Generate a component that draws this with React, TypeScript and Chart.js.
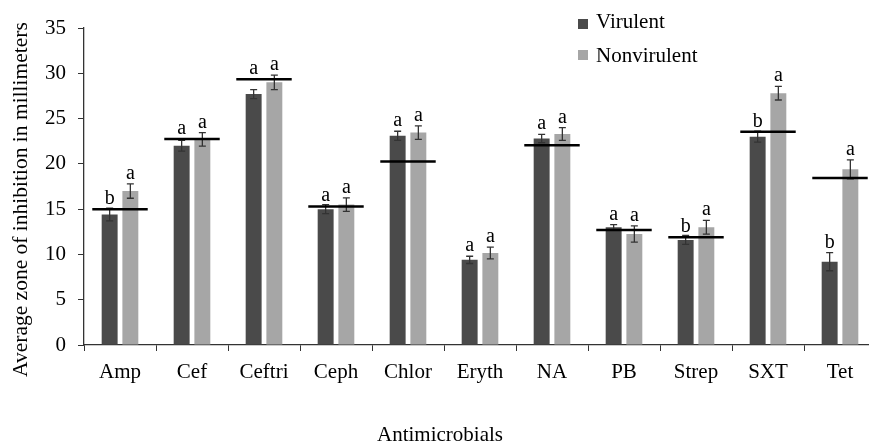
import React, { useEffect, useRef } from "react";
import { Chart, registerables } from "chart.js";

Chart.register(...registerables);

const categories = ["Amp", "Cef", "Ceftri", "Ceph", "Chlor", "Eryth", "NA", "PB", "Strep", "SXT", "Tet"];
const virulent = [14.4, 22.0, 27.7, 15.0, 23.1, 9.4, 22.8, 13.0, 11.6, 23.0, 9.2];
const virulentErr = [0.7, 0.6, 0.5, 0.5, 0.5, 0.4, 0.45, 0.3, 0.5, 0.6, 1.0];
const nonvirulent = [17.0, 22.7, 29.0, 15.5, 23.45, 10.15, 23.3, 12.25, 13.0, 27.8, 19.4];
const nonvirulentErr = [0.8, 0.75, 0.8, 0.75, 0.75, 0.65, 0.7, 0.9, 0.75, 0.75, 1.05];
const virulentLetters = ["b", "a", "a", "a", "a", "a", "a", "a", "b", "b", "b"];
const nonvirulentLetters = ["a", "a", "a", "a", "a", "a", "a", "a", "a", "a", "a"];
const referenceLines: (number | null)[] = [15.0, 22.75, 29.33, 15.3, 20.25, null, 22.05, 12.7, 11.9, 23.55, 18.45];
const yTicks = [0, 5, 10, 15, 20, 25, 30, 35];
const seriesNames = ["Virulent", "Nonvirulent"];
const xTitle = "Antimicrobials";
const yTitle = "Average zone of inhibition in millimeters";

const FONT = "'Liberation Serif', 'Times New Roman', serif";
const DARK = "#4a4a4a";
const LIGHT = "#a6a6a6";

const overlayPlugin = {
  id: "overlay",
  afterDatasetsDraw(chart: any) {
    const ctx = chart.ctx;
    const y = chart.scales.y;
    const x = chart.scales.x;
    const errs = [virulentErr, nonvirulentErr];
    const letters = [virulentLetters, nonvirulentLetters];
    const catW = x.getPixelForValue(1) - x.getPixelForValue(0);
    ctx.save();
    // error bars
    chart.data.datasets.forEach((ds: any, di: number) => {
      const meta = chart.getDatasetMeta(di);
      meta.data.forEach((el: any, i: number) => {
        const v = ds.data[i];
        const e = errs[di][i];
        const top = y.getPixelForValue(v + e);
        const bot = y.getPixelForValue(v - e);
        ctx.strokeStyle = "#333";
        ctx.lineWidth = 1.3;
        ctx.beginPath();
        ctx.moveTo(el.x, top);
        ctx.lineTo(el.x, bot);
        ctx.moveTo(el.x - 3.5, top);
        ctx.lineTo(el.x + 3.5, top);
        ctx.moveTo(el.x - 3.5, bot);
        ctx.lineTo(el.x + 3.5, bot);
        ctx.stroke();
      });
    });
    // reference lines
    referenceLines.forEach((rv, i) => {
      if (rv == null) return;
      const cx = x.getPixelForValue(i);
      const py = y.getPixelForValue(rv);
      ctx.strokeStyle = "#000";
      ctx.lineWidth = 2.5;
      ctx.beginPath();
      ctx.moveTo(cx - 0.385 * catW, py);
      ctx.lineTo(cx + 0.385 * catW, py);
      ctx.stroke();
    });
    // letters
    ctx.fillStyle = "#000";
    ctx.font = `20px ${FONT}`;
    ctx.textAlign = "center";
    ctx.textBaseline = "alphabetic";
    chart.data.datasets.forEach((ds: any, di: number) => {
      const meta = chart.getDatasetMeta(di);
      meta.data.forEach((el: any, i: number) => {
        const v = ds.data[i];
        let top = y.getPixelForValue(v + errs[di][i]);
        const rv = referenceLines[i];
        if (rv != null) {
          const lp = y.getPixelForValue(rv);
          if (lp < top + 2 && top - lp < 15) top = lp;
        }
        ctx.fillText(letters[di][i], el.x, top - 5);
      });
    });
    // legend
    const colors = [DARK, LIGHT];
    ctx.font = `21px ${FONT}`;
    ctx.textAlign = "left";
    ctx.textBaseline = "alphabetic";
    const baselines = [28.3, 61.7];
    const sqTops = [19, 50];
    seriesNames.forEach((n, i) => {
      ctx.fillStyle = colors[i];
      ctx.fillRect(578, sqTops[i], 10, 10);
      ctx.fillStyle = "#000";
      ctx.fillText(n, 596, baselines[i]);
    });
    // axis titles
    ctx.textAlign = "center";
    ctx.fillText(xTitle, 440, 441);
    ctx.save();
    ctx.translate(27, 377);
    ctx.rotate(-Math.PI / 2);
    ctx.textAlign = "left";
    ctx.font = `21.5px ${FONT}`;
    ctx.fillText(yTitle, 0, 0);
    ctx.restore();
    ctx.restore();
  },
};

export default function App() {
  const ref = useRef<HTMLCanvasElement>(null);
  useEffect(() => {
    if (!ref.current) return;
    const chart = new Chart(ref.current, {
      type: "bar",
      data: {
        labels: categories,
        datasets: [
          { label: seriesNames[0], data: virulent, backgroundColor: DARK, categoryPercentage: 0.575, barPercentage: 0.77 },
          { label: seriesNames[1], data: nonvirulent, backgroundColor: LIGHT, categoryPercentage: 0.575, barPercentage: 0.77 },
        ],
      },
      options: {
        animation: false,
        responsive: false,
        layout: { padding: { left: 0, top: 28, right: 4, bottom: 0 } },
        plugins: { legend: { display: false }, tooltip: { enabled: false } },
        scales: {
          x: {
            afterFit: (s: any) => { s.height = 99; },
            grid: { offset: true, drawOnChartArea: false, drawTicks: true, tickLength: 6, color: "#333", lineWidth: 1 },
            border: { display: true, color: "#333", width: 1.3 },
            ticks: { color: "#000", font: { family: FONT, size: 21 }, padding: 9 },
          },
          y: {
            min: 0,
            max: 35,
            afterFit: (s: any) => { s.width = 84; },
            afterBuildTicks: (s: any) => { s.ticks = yTicks.map((v) => ({ value: v })); },
            grid: { drawOnChartArea: false, drawTicks: true, tickLength: 6, color: "#333", lineWidth: 1 },
            border: { display: true, color: "#333", width: 1.3 },
            ticks: { color: "#000", font: { family: FONT, size: 21 }, padding: 12 },
          },
        },
      },
      plugins: [overlayPlugin],
    });
    return () => chart.destroy();
  }, []);
  return (
    <div style={{ position: "fixed", left: 0, top: 0, width: 869, height: 444, overflow: "hidden", background: "#fff" }}>
      <canvas ref={ref} width={880} height={444} style={{ display: "block" }} />
    </div>
  );
}
